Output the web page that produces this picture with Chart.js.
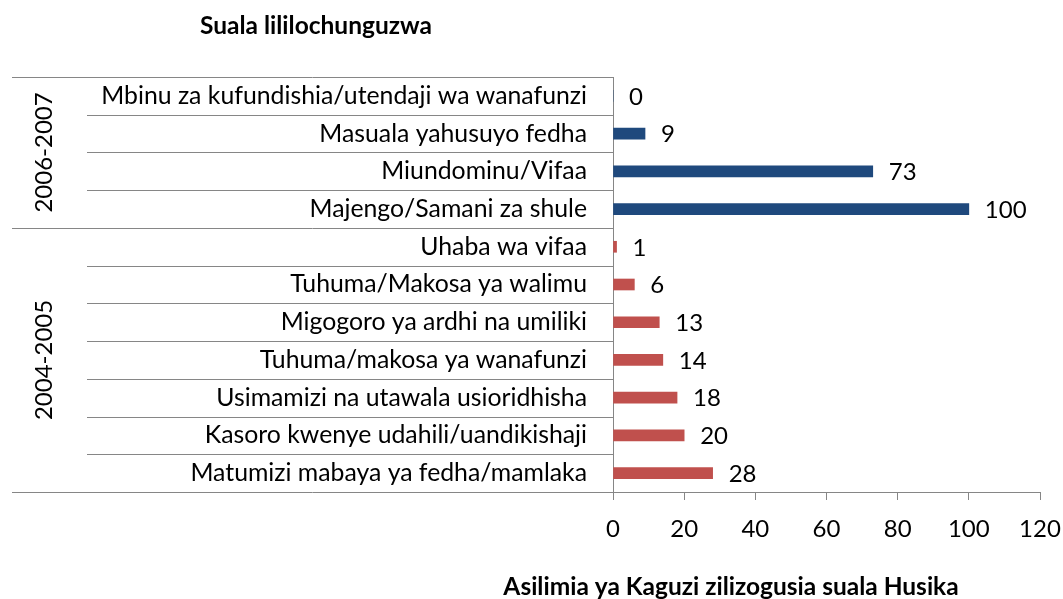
<!DOCTYPE html>
<html>
<head>
<meta charset="utf-8">
<script src="https://cdn.jsdelivr.net/npm/chart.js@4"></script>
<style>
  html, body { margin: 0; padding: 0; background: #fff; }
  #wrap { width: 1063px; height: 599px; }
</style>
</head>
<body>
<div id="wrap"><canvas id="chart" width="1063" height="599"></canvas></div>
<script>
// Chart data
const categories = [
  'Mbinu za kufundishia/utendaji wa wanafunzi',
  'Masuala yahusuyo fedha',
  'Miundominu/Vifaa',
  'Majengo/Samani za shule',
  'Uhaba wa vifaa',
  'Tuhuma/Makosa ya walimu',
  'Migogoro ya ardhi na umiliki',
  'Tuhuma/makosa ya wanafunzi',
  'Usimamizi na utawala usioridhisha',
  'Kasoro kwenye udahili/uandikishaji',
  'Matumizi mabaya ya fedha/mamlaka'
];
const values = [0, 9, 73, 100, 1, 6, 13, 14, 18, 20, 28];
const groupNames = ['2006-2007', '2004-2005'];
const groupSizes = [4, 7];
const groupColors = ['#1F497D', '#C0504D'];
const xTicks = [0, 20, 40, 60, 80, 100, 120];
const chartTitle = 'Suala lililochunguzwa';
const axisTitle = 'Asilimia ya Kaguzi zilizogusia suala Husika';

const FONT = 'Lato, "Open Sans", sans-serif';
const LINE = '#868686';

// group index for every category
const groupOf = [];
groupSizes.forEach((size, g) => { for (let i = 0; i < size; i++) groupOf.push(g); });

// Draws the two-level label grid, group names, value labels and titles
const labelArea = {
  id: 'labelArea',
  afterDraw(chart) {
    const { ctx, chartArea, scales: { y } } = chart;
    const n = categories.length;
    const edge = (i) => {
      if (i === 0) return chartArea.top;
      if (i === n) return chartArea.bottom;
      return (y.getPixelForValue(i - 1) + y.getPixelForValue(i)) / 2;
    };
    const groupStarts = [0];
    groupSizes.forEach((s, g) => groupStarts.push(groupStarts[g] + s));

    ctx.save();
    ctx.strokeStyle = LINE;
    ctx.lineWidth = 1;
    for (let i = 0; i <= n; i++) {
      const outer = groupStarts.includes(i);
      const py = Math.round(edge(i)) + 0.5;
      ctx.beginPath();
      ctx.moveTo(outer ? 12 : 87, py);
      ctx.lineTo(chartArea.left, py);
      ctx.stroke();
    }

    // group names, rotated
    ctx.fillStyle = '#000';
    ctx.font = '24px ' + FONT;
    ctx.textAlign = 'center';
    ctx.textBaseline = 'middle';
    groupNames.forEach((name, g) => {
      const cy = (edge(groupStarts[g]) + edge(groupStarts[g + 1])) / 2;
      ctx.save();
      ctx.translate(44, cy);
      ctx.rotate(-Math.PI / 2);
      ctx.fillText(name, 0, 0);
      ctx.restore();
    });

    // value labels
    const meta = chart.getDatasetMeta(0);
    ctx.textAlign = 'left';
    meta.data.forEach((bar, i) => {
      ctx.fillText(String(values[i]), bar.x + 16, bar.y + 1);
    });

    // titles
    ctx.font = 'bold 24.5px ' + FONT;
    ctx.textAlign = 'left';
    ctx.fillText(chartTitle, 200, 26);
    ctx.textAlign = 'center';
    ctx.fillText(axisTitle, 731, 587);
    ctx.restore();
  }
};

new Chart(document.getElementById('chart'), {
  type: 'bar',
  data: {
    labels: categories,
    datasets: [{
      data: values,
      backgroundColor: groupOf.map(g => groupColors[g]),
      barThickness: 11,
      borderWidth: 0
    }]
  },
  options: {
    indexAxis: 'y',
    responsive: false,
    animation: false,
    layout: { padding: { top: 77, right: 23, left: 0, bottom: 0 } },
    plugins: {
      legend: { display: false },
      tooltip: { enabled: false }
    },
    scales: {
      x: {
        min: 0,
        max: 120,
        afterBuildTicks: (s) => { s.ticks = xTicks.map(v => ({ value: v })); },
        afterFit: (s) => { s.height = 107; s.paddingLeft = 0; s.paddingRight = 0; },
        grid: { drawOnChartArea: false, drawTicks: true, tickLength: 8, color: LINE },
        border: { display: true, color: LINE },
        ticks: { color: '#000', font: { family: FONT, size: 24 }, padding: 15, maxRotation: 0 }
      },
      y: {
        afterFit: (s) => { s.width = 613; },
        grid: { display: false, drawTicks: false },
        border: { display: true, color: LINE },
        ticks: { color: '#000', font: { family: FONT, size: 24.8 }, padding: 26, autoSkip: false }
      }
    }
  },
  plugins: [labelArea]
});
</script>
</body>
</html>
